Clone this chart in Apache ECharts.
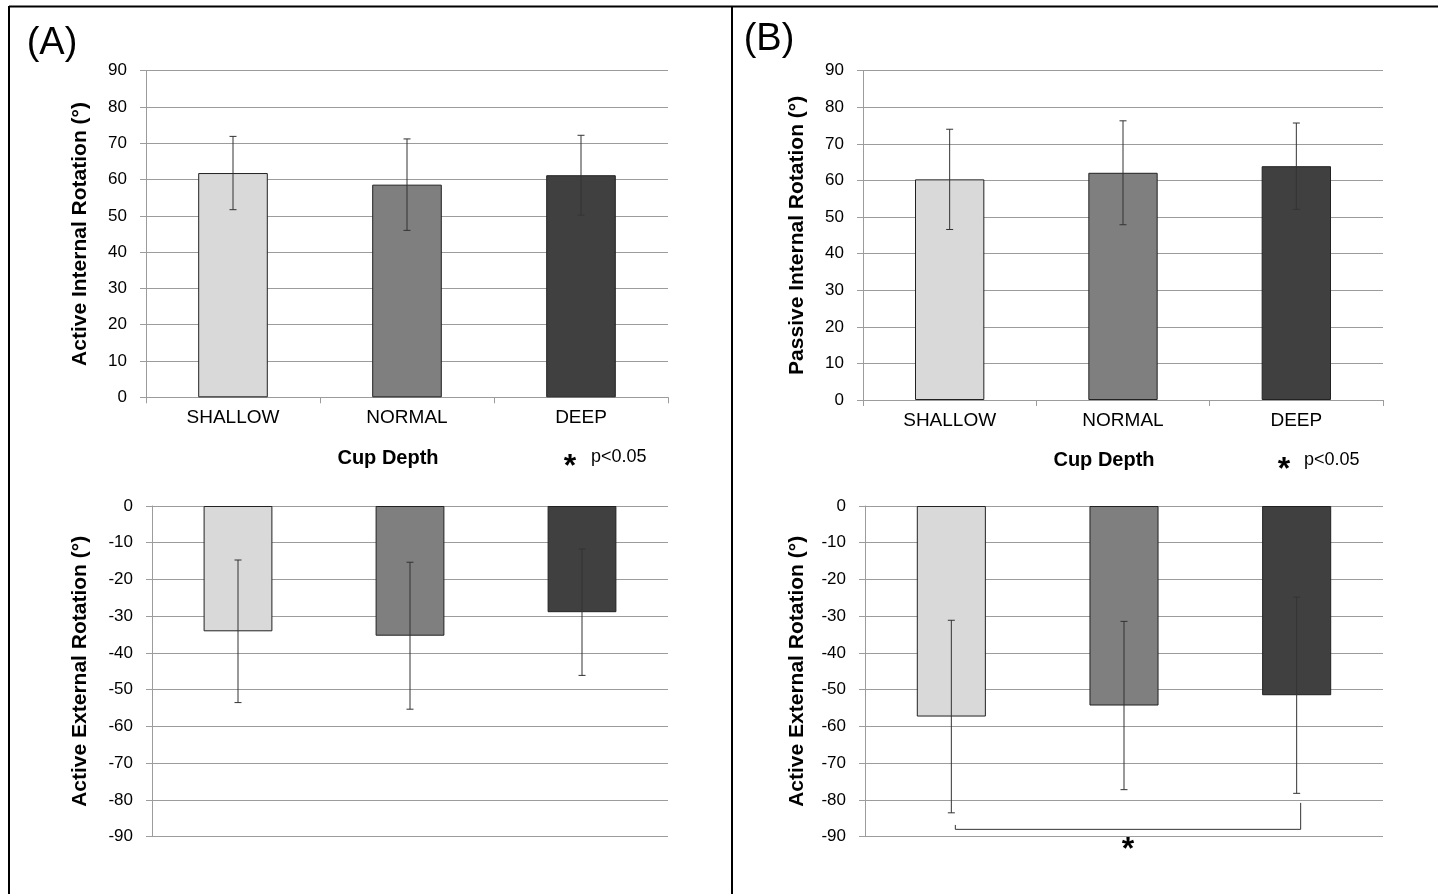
<!DOCTYPE html>
<html>
<head>
<meta charset="utf-8">
<script src="https://cdn.jsdelivr.net/npm/echarts@6/dist/echarts.min.js"></script>
<style>
html,body{margin:0;padding:0;background:#fff;}
#chart{width:1438px;height:894px;}
</style>
</head>
<body>
<div id="chart"></div>
<script>
// ---- data ----
const categories = ['SHALLOW', 'NORMAL', 'DEEP'];
const barColors = ['#d9d9d9', '#7f7f7f', '#404040'];
// Panel A
const activeIRMeanA = [61.8, 58.6, 61.2];
const activeIRSdA = [10.1, 12.6, 11.0];
const activeERMeanA = [-34.1, -35.3, -28.9];
const activeERSdA = [19.4, 20.0, 17.2];
// Panel B
const passiveIRMeanB = [60.3, 62.1, 63.9];
const passiveIRSdB = [13.7, 14.2, 11.8];
const activeERMeanB = [-57.3, -54.3, -51.5];
const activeERSdB = [26.2, 22.9, 26.7];
// significance bracket (panel B, external rotation): from SHALLOW to DEEP
const bracketCats = [0, 2];
const bracketLevel = -88;
const bracketEnds = [-86.8, -80.8];
const bracketStarValue = -92.3;
// axis ticks
const posTicks = { min: 0, max: 90, interval: 10 };
const negTicks = { min: -90, max: 0, interval: 10 };

const FONT = "'Liberation Sans', Arial, sans-serif";
const gridColor = '#9c9c9c';

const chart = echarts.init(document.getElementById('chart'), null, { renderer: 'canvas' });

const grids = [
  { left: 146, top: 70.7, width: 522, height: 326.6 },
  { left: 152, top: 506, width: 516, height: 330.7 },
  { left: 863, top: 70.7, width: 520, height: 329.3 },
  { left: 865, top: 506, width: 518, height: 330.7 }
];

function xAxisFor(i, showLabels) {
  return {
    type: 'category', gridIndex: i, data: categories,
    axisLine: { show: showLabels, lineStyle: { color: gridColor, width: 1 } },
    axisTick: { show: showLabels, length: 6, lineStyle: { color: gridColor } },
    axisLabel: { show: showLabels, fontSize: 19, color: '#000', fontFamily: FONT, margin: 11 },
    splitLine: { show: false }
  };
}
function yAxisFor(i, ticks, name, gap) {
  return {
    type: 'value', gridIndex: i, min: ticks.min, max: ticks.max, interval: ticks.interval,
    name: name, nameLocation: 'middle', nameGap: gap,
    nameTextStyle: { fontSize: 21, fontWeight: 'bold', color: '#000', fontFamily: FONT },
    axisLine: { show: true, lineStyle: { color: gridColor, width: 1 } },
    axisTick: { show: true, length: 6, lineStyle: { color: gridColor } },
    axisLabel: { fontSize: 17, color: '#000', fontFamily: FONT, margin: 19 },
    splitLine: { show: true, lineStyle: { color: gridColor, width: 1 } }
  };
}

function barSeries(i, means) {
  return {
    type: 'bar', xAxisIndex: i, yAxisIndex: i, barWidth: '40%', z: 2,
    data: means.map((v, k) => ({ value: v, itemStyle: { color: barColors[k] } })),
    itemStyle: { borderColor: '#222', borderWidth: 1 }
  };
}
function errSeries(i, means, sds) {
  return {
    type: 'custom', xAxisIndex: i, yAxisIndex: i, z: 5,
    data: means.map((m, k) => [k, m - sds[k], m + sds[k]]),
    renderItem: function (params, api) {
      const x = api.value(0);
      const lo = api.coord([x, api.value(1)]);
      const hi = api.coord([x, api.value(2)]);
      const cap = 3.5;
      const st = { stroke: '#333', lineWidth: 1 };
      return {
        type: 'group',
        children: [
          { type: 'line', shape: { x1: hi[0], y1: hi[1], x2: lo[0], y2: lo[1] }, style: st },
          { type: 'line', shape: { x1: hi[0] - cap, y1: hi[1], x2: hi[0] + cap, y2: hi[1] }, style: st },
          { type: 'line', shape: { x1: lo[0] - cap, y1: lo[1], x2: lo[0] + cap, y2: lo[1] }, style: st }
        ]
      };
    }
  };
}
function bracketSeries(i) {
  return {
    type: 'custom', xAxisIndex: i, yAxisIndex: i, z: 6,
    data: [[bracketCats[0], bracketCats[1], bracketLevel, bracketEnds[0], bracketEnds[1], bracketStarValue]],
    renderItem: function (params, api) {
      const off = 4;
      const a0 = api.coord([api.value(0), api.value(3)]);
      const aL = api.coord([api.value(0), api.value(2)]);
      const b0 = api.coord([api.value(1), api.value(4)]);
      const bL = api.coord([api.value(1), api.value(2)]);
      const mid = api.coord([(api.value(0) + api.value(1)) / 2, api.value(5)]);
      const st = { stroke: '#333', lineWidth: 1 };
      return {
        type: 'group',
        children: [
          { type: 'line', shape: { x1: a0[0] + off, y1: a0[1], x2: aL[0] + off, y2: aL[1] }, style: st },
          { type: 'line', shape: { x1: aL[0] + off, y1: aL[1], x2: bL[0] + off, y2: bL[1] }, style: st },
          { type: 'line', shape: { x1: b0[0] + off, y1: b0[1], x2: bL[0] + off, y2: bL[1] }, style: st },
          { type: 'text', x: mid[0] + off, y: mid[1] + 5,
            style: { text: '*', fontSize: 32, fontWeight: 'bold', fontFamily: FONT, fill: '#000', align: 'center', verticalAlign: 'middle' } }
        ]
      };
    }
  };
}

function txt(x, y, text, size, weight, align) {
  return { type: 'text', x: x, y: y, z: 10,
    style: { text: text, fontSize: size, fontWeight: weight || 'normal', fontFamily: FONT, fill: '#000',
      align: align || 'center', verticalAlign: 'middle' } };
}
function line(x1, y1, x2, y2) {
  return { type: 'line', z: 10, shape: { x1: x1, y1: y1, x2: x2, y2: y2 }, style: { stroke: '#000', lineWidth: 2 } };
}

const option = {
  animation: false,
  backgroundColor: '#fff',
  grid: grids,
  xAxis: [xAxisFor(0, true), xAxisFor(1, false), xAxisFor(2, true), xAxisFor(3, false)],
  yAxis: [
    yAxisFor(0, posTicks, 'Active Internal Rotation (°)', 55),
    yAxisFor(1, negTicks, 'Active External Rotation (°)', 61),
    yAxisFor(2, posTicks, 'Passive Internal Rotation (°)', 55),
    yAxisFor(3, negTicks, 'Active External Rotation (°)', 57)
  ],
  series: [
    barSeries(0, activeIRMeanA), errSeries(0, activeIRMeanA, activeIRSdA),
    barSeries(1, activeERMeanA), errSeries(1, activeERMeanA, activeERSdA),
    barSeries(2, passiveIRMeanB), errSeries(2, passiveIRMeanB, passiveIRSdB),
    barSeries(3, activeERMeanB), errSeries(3, activeERMeanB, activeERSdB),
    bracketSeries(3)
  ],
  graphic: [
    line(9, 6.5, 1438, 6.5),
    line(9, 6, 9, 894),
    line(732, 6, 732, 894),
    txt(52, 44, '(A)', 38),
    txt(769, 40, '(B)', 38),
    txt(388, 458, 'Cup Depth', 20, 'bold'),
    txt(1104, 460, 'Cup Depth', 20, 'bold'),
    txt(570, 467, '*', 32, 'bold'),
    txt(591, 457, 'p<0.05', 18, 'normal', 'left'),
    txt(1284, 470, '*', 32, 'bold'),
    txt(1304, 460, 'p<0.05', 18, 'normal', 'left')
  ]
};
chart.setOption(option);
</script>
</body>
</html>
